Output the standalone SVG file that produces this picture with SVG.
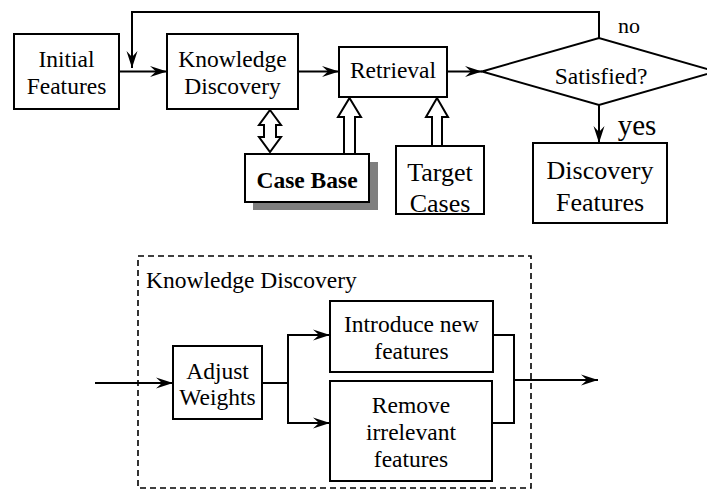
<svg xmlns="http://www.w3.org/2000/svg" width="707" height="491" viewBox="0 0 707 491">
<defs>
<marker id="ah" markerUnits="userSpaceOnUse" markerWidth="20" markerHeight="12" viewBox="-17 -6 18 12" refX="0" refY="0" orient="auto">
<path d="M0,0 L-17,-5.5 L-11,0 L-17,5.5 Z" fill="#000"/>
</marker>
</defs>
<style>
.b{fill:#fff;stroke:#000;stroke-width:2}
.c{fill:none;stroke:#000;stroke-width:2}
.a{marker-end:url(#ah)}
.t{font-family:"Liberation Serif","Times New Roman",serif;font-size:23.5px;fill:#000;text-anchor:middle}
.h{fill:#fff;stroke:#000;stroke-width:2;stroke-linejoin:miter}
</style>
<rect width="707" height="491" fill="#fff"/>

<g id="connectors">
<polyline class="c a" points="599,38 599,12 132,12 132,68"/>
<line class="c a" x1="119" y1="71.5" x2="167" y2="71.5"/>
<line class="c a" x1="298" y1="71.5" x2="339" y2="71.5"/>
<line class="c a" x1="447" y1="71.5" x2="482" y2="71.5"/>
<line class="c a" x1="599" y1="105" x2="599" y2="143"/>
<polygon class="h" points="270,110 281,125 276,125 276,137 281,137 270,152 259,137 264,137 264,125 259,125"/>
<polygon class="h" points="349.5,98 361,117 355,117 355,154 344,154 344,117 338,117"/>
<polygon class="h" points="437,98 448,117 442,117 442,146 432,146 432,117 426,117"/>
<line class="c a" x1="95" y1="383" x2="173" y2="383"/>
<polyline class="c" points="262,383 288,383"/>
<polyline class="c a" points="288,383 288,335 330,335"/>
<polyline class="c a" points="288,383 288,423 330,423"/>
<polyline class="c" points="493,335 514,335 514,423 492,423"/>
<line class="c a" x1="514" y1="380" x2="598" y2="380"/>
</g>

<g id="initial-features">
<rect class="b" x="14" y="34" width="105" height="75"/>
<text class="t" x="66.5" y="67">Initial</text>
<text class="t" x="66.5" y="94">Features</text>
</g>

<g id="knowledge-discovery">
<rect class="b" x="167" y="34" width="131" height="75"/>
<text class="t" x="232.5" y="67">Knowledge</text>
<text class="t" x="232.5" y="94">Discovery</text>
</g>

<g id="retrieval">
<rect class="b" x="339" y="47" width="108" height="50"/>
<text class="t" x="393" y="78">Retrieval</text>
</g>

<g id="satisfied">
<polygon class="b" points="482,71.5 599,38 716,71.5 599,105"/>
<text class="t" x="601" y="84">Satisfied?</text>
<text class="t" x="629" y="33" style="font-size:22px">no</text>
<text class="t" x="637" y="135" style="font-size:29px">yes</text>
</g>

<g id="case-base">
<rect x="253" y="162" width="125" height="48" fill="#7f7f7f"/>
<rect class="b" x="245" y="154" width="124" height="48"/>
<text class="t" x="307" y="188" font-weight="bold">Case Base</text>
</g>

<g id="target-cases">
<rect class="b" x="396" y="146" width="88" height="68"/>
<text class="t" x="440" y="181" style="font-size:26px">Target</text>
<text class="t" x="440" y="212" style="font-size:26px">Cases</text>
</g>

<g id="discovery-features">
<rect class="b" x="533" y="143" width="134" height="80"/>
<text class="t" x="600" y="179" style="font-size:26px">Discovery</text>
<text class="t" x="600" y="211" style="font-size:26px">Features</text>
</g>

<g id="kd-detail">
<rect x="138" y="256" width="393" height="232" fill="none" stroke="#000" stroke-width="1.6" stroke-dasharray="6,4"/>
<text class="t" x="146" y="288" style="text-anchor:start">Knowledge Discovery</text>
</g>

<g id="adjust-weights">
<rect class="b" x="173" y="346" width="89" height="73"/>
<text class="t" x="217.5" y="379">Adjust</text>
<text class="t" x="217.5" y="405">Weights</text>
</g>

<g id="introduce-new-features">
<rect class="b" x="330" y="301" width="163" height="71"/>
<text class="t" x="411.5" y="332">Introduce new</text>
<text class="t" x="411.5" y="359">features</text>
</g>

<g id="remove-irrelevant-features">
<rect class="b" x="330" y="381" width="162" height="100"/>
<text class="t" x="411" y="413">Remove</text>
<text class="t" x="411" y="440">irrelevant</text>
<text class="t" x="411" y="467">features</text>
</g>
</svg>
